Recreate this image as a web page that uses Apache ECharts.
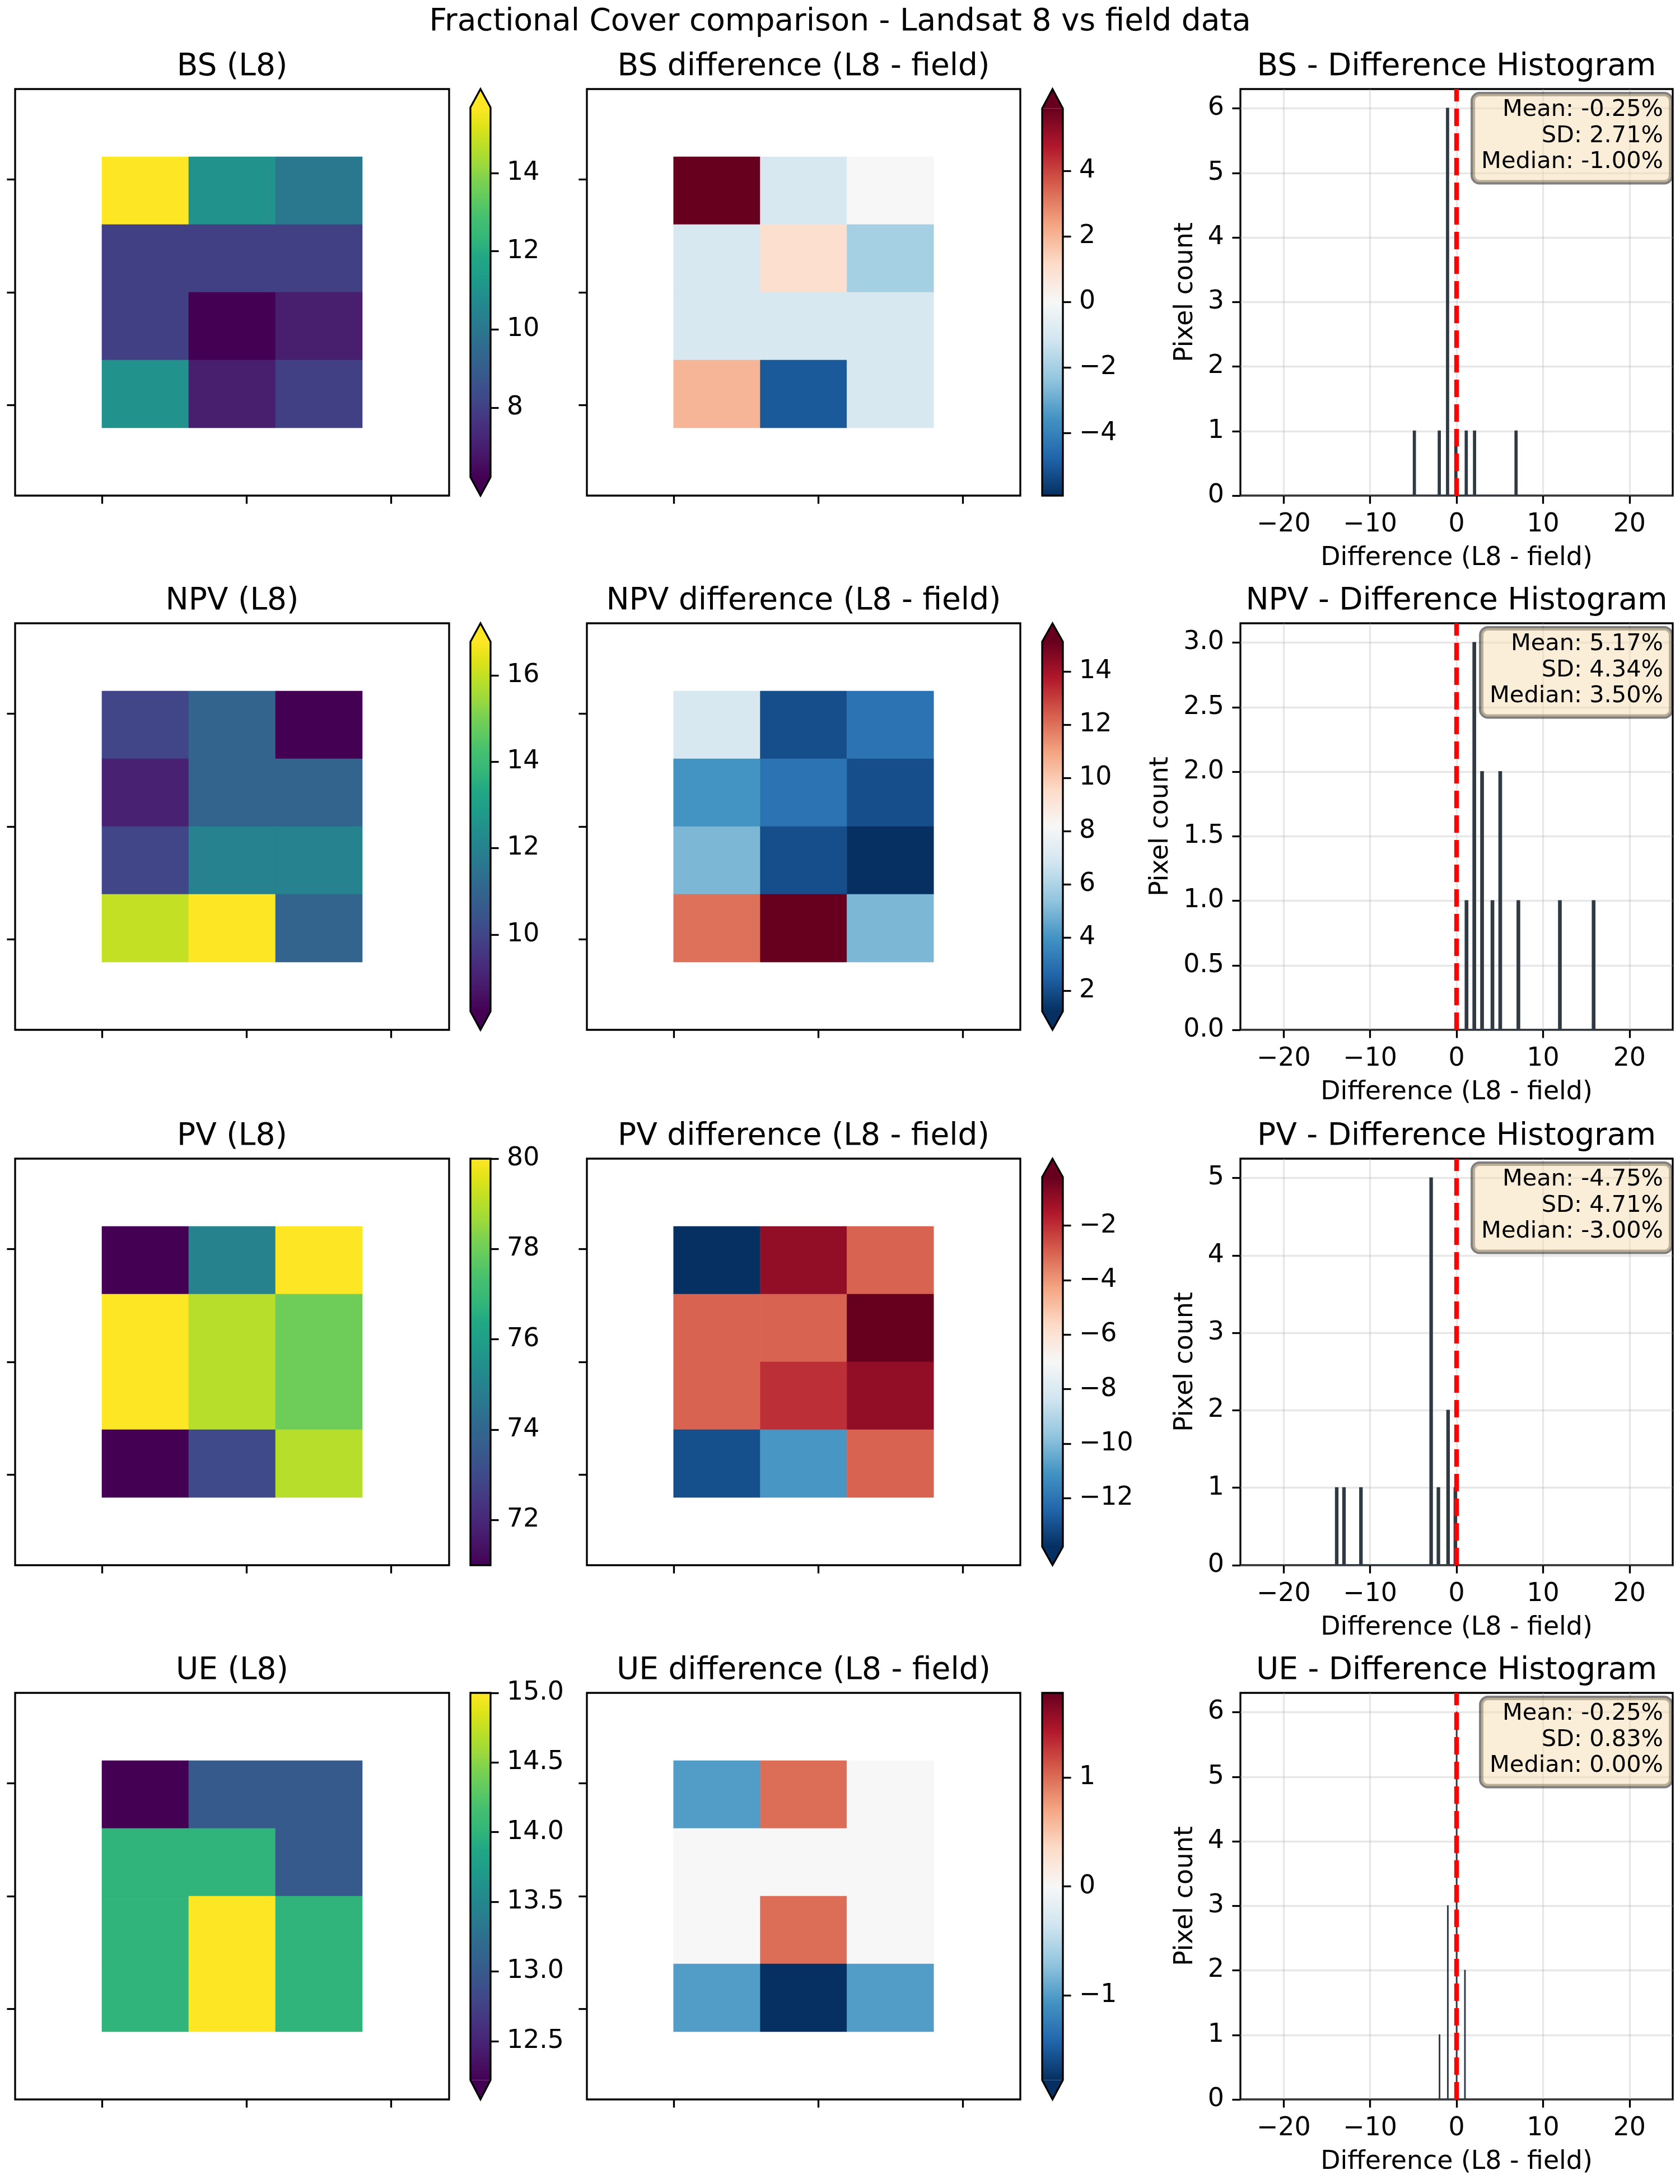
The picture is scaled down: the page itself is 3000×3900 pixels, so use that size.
<!DOCTYPE html>
<html>
<head>
<meta charset="utf-8">
<script src="https://cdn.jsdelivr.net/npm/echarts@6/dist/echarts.min.js"></script>
<style>
  html, body { margin: 0; padding: 0; background: #fff; }
  #chart { width: 3000px; height: 3900px; }
</style>
</head>
<body>
<div id="chart"></div>
<script>
// Landsat 8 cover values, 4 rows x 3 columns (top row first)
const BS_L8 = [[17, 11, 10], [8, 8, 8], [8, 6, 7], [11, 7, 8]];
const NPV_L8 = [[10, 11, 8], [9, 11, 11], [10, 12, 12], [16, 17, 11]];
const PV_L8 = [[71, 75, 80], [80, 79, 78], [80, 79, 78], [71, 73, 79]];
const UE_L8 = [[12, 13, 13], [14, 14, 13], [14, 15, 14], [14, 15, 14]];

// L8 - field differences, same layout
const BS_DIFF = [[7, -1, 0], [-1, 1, -2], [-1, -1, -1], [2, -5, -1]];
const NPV_DIFF = [[7, 2, 3], [4, 3, 2], [5, 2, 1], [12, 16, 5]];
const PV_DIFF = [[-14, -1, -3], [-3, -3, 0], [-3, -2, -1], [-13, -11, -3]];
const UE_DIFF = [[-1, 1, 0], [0, 0, 0], [0, 1, 0], [-1, -2, -1]];

const VAR_NAMES = ['BS', 'NPV', 'PV', 'UE'];

// colorbar ticks
const BS_L8_TICKS = [8, 10, 12, 14];
const NPV_L8_TICKS = [10, 12, 14, 16];
const PV_L8_TICKS = [72, 74, 76, 78, 80];
const UE_L8_TICKS = [12.5, 13.0, 13.5, 14.0, 14.5, 15.0];
const BS_DIFF_TICKS = [-4, -2, 0, 2, 4];
const NPV_DIFF_TICKS = [2, 4, 6, 8, 10, 12, 14];
const PV_DIFF_TICKS = [-12, -10, -8, -6, -4, -2];
const UE_DIFF_TICKS = [-1, 0, 1];

// histogram ticks
const HIST_X_TICKS = [-20, -10, 0, 10, 20];
const BS_HIST_Y_TICKS = [0, 1, 2, 3, 4, 5, 6];
const NPV_HIST_Y_TICKS = [0, 0.5, 1.0, 1.5, 2.0, 2.5, 3.0];
const PV_HIST_Y_TICKS = [0, 1, 2, 3, 4, 5];
const UE_HIST_Y_TICKS = [0, 1, 2, 3, 4, 5, 6];

// map frame ticks (no labels)
const MAP_X_TICKS = [30, 80, 130];
const MAP_Y_TICKS = [40, 90, 140];

const BS_STATS = ['Mean: -0.25%', 'SD: 2.71%', 'Median: -1.00%'];
const NPV_STATS = ['Mean: 5.17%', 'SD: 4.34%', 'Median: 3.50%'];
const PV_STATS = ['Mean: -4.75%', 'SD: 4.71%', 'Median: -3.00%'];
const UE_STATS = ['Mean: -0.25%', 'SD: 0.83%', 'Median: 0.00%'];

const SUPTITLE = 'Fractional Cover comparison - Landsat 8 vs field data';
const X_LABEL = 'Difference (L8 - field)';
const Y_LABEL = 'Pixel count';

const VIRIDIS = ['#440154', '#471365', '#482475', '#46337f', '#414487', '#3b528b', '#355f8d',
  '#306a8e', '#2a788e', '#25848e', '#21918c', '#1f9e89', '#22a884', '#35b779', '#44bf70',
  '#5ec962', '#7ad151', '#9fda3a', '#bddf26', '#dfe318', '#fde725'];
const RDBU_R = ['#053061', '#2166ac', '#4393c3', '#92c5de', '#d1e5f0', '#f7f7f7',
  '#fddbc7', '#f4a582', '#d6604d', '#b2182b', '#67001f'];

const VARS = [
  { l8: BS_L8, diff: BS_DIFF, l8Ticks: BS_L8_TICKS, diffTicks: BS_DIFF_TICKS, yTicks: BS_HIST_Y_TICKS, stats: BS_STATS },
  { l8: NPV_L8, diff: NPV_DIFF, l8Ticks: NPV_L8_TICKS, diffTicks: NPV_DIFF_TICKS, yTicks: NPV_HIST_Y_TICKS, stats: NPV_STATS, yDigits: 1 },
  { l8: PV_L8, diff: PV_DIFF, l8Ticks: PV_L8_TICKS, diffTicks: PV_DIFF_TICKS, yTicks: PV_HIST_Y_TICKS, stats: PV_STATS },
  { l8: UE_L8, diff: UE_DIFF, l8Ticks: UE_L8_TICKS, diffTicks: UE_DIFF_TICKS, yTicks: UE_HIST_Y_TICKS, stats: UE_STATS, cbDigits: 1 }
];

// layout (px)
const ROW_TOP = [159, 1113, 2069, 3023];
const ROW_H = 726;
const MAP1 = [27, 775], CB1 = [840, 36], MAP2 = [1048, 774], CB2 = [1861, 37], HIST = [2215, 772];
const CELL = 30;
const SPINE = 3.3, TICK_LEN = 14.6, LABEL_PAD = 29;
const FONT = 'DejaVu Sans';
const TICK_FS = 45.8, TITLE_FS = 55, STAT_FS = 41.5;
const HIST_BINS = 50;
const BAR_COLOR = '#303a44';

const measureCtx = document.createElement('canvas').getContext('2d');
measureCtx.font = TICK_FS + 'px "' + FONT + '"';

function fmt(v, digits) {
  const s = Math.abs(v).toFixed(digits || 0);
  return (v < 0 && Number(s) !== 0 ? '\u2212' : '') + s;
}

function percentile(vals, p) {
  const s = vals.slice().sort((a, b) => a - b);
  const idx = (s.length - 1) * p / 100;
  const lo = Math.floor(idx), hi = Math.ceil(idx);
  return s[lo] + (s[hi] - s[lo]) * (idx - lo);
}

function histogram(vals, nBins) {
  const lo = Math.min(...vals), hi = Math.max(...vals);
  const counts = new Array(nBins).fill(0);
  vals.forEach(v => {
    let k = Math.floor((v - lo) * nBins / (hi - lo) + 1e-9);
    if (k >= nBins) k = nBins - 1;
    counts[k]++;
  });
  const w = (hi - lo) / nBins;
  return counts.map((n, k) => [lo + k * w, lo + (k + 1) * w, n]);
}

function cellItem(params, api) {
  const c = api.value(0), r = api.value(1);
  const p0 = api.coord([(c + 1) * CELL, (r + 1) * CELL]);
  const p1 = api.coord([(c + 2) * CELL, (r + 2) * CELL]);
  const col = api.visual('color');
  return {
    type: 'rect',
    shape: { x: Math.min(p0[0], p1[0]), y: Math.min(p0[1], p1[1]),
             width: Math.abs(p1[0] - p0[0]), height: Math.abs(p1[1] - p0[1]) },
    style: { fill: col, stroke: col, lineWidth: 0.6 }
  };
}

function colorbarItem(cmap, ext) {
  return function (params, api) {
    const cs = params.coordSys;
    const yTop = api.coord([0, api.value(1)])[1];
    const yBot = api.coord([0, api.value(0)])[1];
    const x0 = cs.x, x1 = cs.x + cs.width, xm = (x0 + x1) / 2;
    const a = (yBot - yTop) * 0.05;
    const n = cmap.length;
    const stops = cmap.map((c, k) => ({ offset: 1 - k / (n - 1), color: c })).reverse();
    const children = [{
      type: 'rect', shape: { x: x0, y: yTop, width: x1 - x0, height: yBot - yTop },
      style: { fill: new echarts.graphic.LinearGradient(0, 0, 0, 1, stops) }
    }];
    const outline = [[x0, yBot]];
    if (ext.min) {
      children.push({ type: 'polygon', shape: { points: [[x0, yBot], [xm, yBot + a], [x1, yBot]] }, style: { fill: cmap[0] } });
      outline.push([xm, yBot + a]);
    }
    outline.push([x1, yBot], [x1, yTop]);
    if (ext.max) {
      children.push({ type: 'polygon', shape: { points: [[x0, yTop], [xm, yTop - a], [x1, yTop]] }, style: { fill: cmap[n - 1] } });
      outline.push([xm, yTop - a]);
    }
    outline.push([x0, yTop]);
    children.push({ type: 'polygon', shape: { points: outline },
      style: { fill: 'none', stroke: '#000', lineWidth: SPINE, lineJoin: 'miter' } });
    return { type: 'group', children: children };
  };
}

function barItem(params, api) {
  const p0 = api.coord([api.value(0), 0]);
  const p1 = api.coord([api.value(1), api.value(2)]);
  return {
    type: 'rect',
    shape: { x: p0[0], y: p1[1], width: p1[0] - p0[0], height: p0[1] - p1[1] },
    style: { fill: BAR_COLOR, stroke: BAR_COLOR, lineWidth: 2, opacity: 1 }
  };
}

const option = {
  animation: false,
  backgroundColor: '#fff',
  textStyle: { fontFamily: FONT },
  title: [], grid: [], xAxis: [], yAxis: [], series: [], visualMap: [], graphic: []
};

const tickStyle = { color: '#000', width: SPINE };
const labelStyle = { color: '#000', fontSize: TICK_FS, fontFamily: FONT };
const noLine = { show: false, onZero: false };

function addGrid(left, top, width, height, framed) {
  option.grid.push({
    left: left, top: top, width: width, height: height,
    show: framed, borderColor: '#000', borderWidth: SPINE, backgroundColor: 'transparent',
    containLabel: false, outerBoundsMode: 'none'
  });
  return option.grid.length - 1;
}

function addTitle(text, cx, top) {
  option.title.push({
    text: text, left: cx, top: top, textAlign: 'center', padding: 0,
    textStyle: { fontSize: TITLE_FS, fontWeight: 'normal', color: '#000', fontFamily: FONT, lineHeight: 66 }
  });
}

function addMap(rowTop, box, grid2d, cmap, lo, hi) {
  const g = addGrid(box[0], rowTop, box[1], ROW_H, true);
  option.xAxis.push({
    gridIndex: g, type: 'value', min: 0, max: 5 * CELL, position: 'bottom',
    axisLine: noLine,
    axisTick: { show: true, inside: false, length: TICK_LEN, customValues: MAP_X_TICKS, lineStyle: tickStyle },
    axisLabel: { show: false }, splitLine: { show: false }
  });
  option.yAxis.push({
    gridIndex: g, type: 'value', min: 0, max: 6 * CELL, inverse: true, position: 'left',
    axisLine: noLine,
    axisTick: { show: true, inside: false, length: TICK_LEN, customValues: MAP_Y_TICKS, lineStyle: tickStyle },
    axisLabel: { show: false }, splitLine: { show: false }
  });
  const cells = [];
  grid2d.forEach((row, r) => row.forEach((v, c) => cells.push([c, r, v])));
  option.series.push({
    type: 'custom', xAxisIndex: g, yAxisIndex: g, encode: { x: 0, y: 1 },
    data: cells, renderItem: cellItem, silent: true
  });
  option.visualMap.push({
    type: 'continuous', show: false, seriesIndex: option.series.length - 1,
    dimension: 2, min: lo, max: hi, inRange: { color: cmap }
  });
}

function addColorbar(rowTop, box, cmap, lo, hi, ext, ticks, digits) {
  const h = ROW_H / (1 + 0.05 * ((ext.min ? 1 : 0) + (ext.max ? 1 : 0)));
  const top = rowTop + (ext.max ? 0.05 * h : 0);
  const g = addGrid(box[0], top, box[1], h, false);
  option.xAxis.push({ gridIndex: g, type: 'value', min: 0, max: 1, show: false, axisLine: noLine });
  option.yAxis.push({
    gridIndex: g, type: 'value', min: lo, max: hi, position: 'right',
    axisLine: noLine,
    axisTick: { show: true, inside: false, length: TICK_LEN, customValues: ticks, lineStyle: tickStyle },
    axisLabel: { show: true, customValues: ticks, margin: LABEL_PAD, formatter: v => fmt(v, digits), ...labelStyle },
    splitLine: { show: false }
  });
  option.series.push({
    type: 'custom', xAxisIndex: g, yAxisIndex: g, encode: { x: -1, y: [0, 1] },
    data: [[lo, hi]], renderItem: colorbarItem(cmap, ext), silent: true, clip: false
  });
}

function addHist(rowTop, diffVals, yTicks, yDigits, stats) {
  const bins = histogram(diffVals, HIST_BINS);
  const yMax = Math.max(...bins.map(b => b[2])) * 1.05;
  const g = addGrid(HIST[0], rowTop, HIST[1], ROW_H, true);
  const labelW = Math.max(...yTicks.map(t => measureCtx.measureText(fmt(t, yDigits)).width));
  const nameStyle = { fontSize: TICK_FS, color: '#000', fontFamily: FONT };
  const gridLine = { show: true, lineStyle: { color: '#b0b0b0', opacity: 0.3, width: SPINE } };
  option.xAxis.push({
    gridIndex: g, type: 'value', min: -25, max: 25, position: 'bottom',
    axisLine: noLine,
    axisTick: { show: true, inside: false, length: TICK_LEN, customValues: HIST_X_TICKS, lineStyle: tickStyle },
    axisLabel: { show: true, customValues: HIST_X_TICKS, margin: LABEL_PAD, formatter: v => fmt(v, 0), ...labelStyle },
    splitLine: gridLine,
    name: X_LABEL, nameLocation: 'middle', nameGap: 89, nameTextStyle: nameStyle, nameMoveOverlap: false
  });
  option.yAxis.push({
    gridIndex: g, type: 'value', min: 0, max: yMax, position: 'left',
    axisLine: noLine,
    axisTick: { show: true, inside: false, length: TICK_LEN, customValues: yTicks, lineStyle: tickStyle },
    axisLabel: { show: true, customValues: yTicks, margin: LABEL_PAD, formatter: v => fmt(v, yDigits), ...labelStyle },
    splitLine: gridLine,
    name: Y_LABEL, nameLocation: 'middle', nameRotate: 90, nameGap: LABEL_PAD + labelW + 17,
    nameTextStyle: nameStyle, nameMoveOverlap: false
  });
  option.series.push({
    type: 'custom', xAxisIndex: g, yAxisIndex: g, encode: { x: [0, 1], y: 2 },
    data: bins, renderItem: barItem, silent: true, z: 2
  });
  option.series.push({
    type: 'line', xAxisIndex: g, yAxisIndex: g, data: [[0, 0], [0, yMax]],
    symbol: 'none', silent: true, z: 5,
    lineStyle: { color: '#ff0000', width: 8.3, type: [31, 13], cap: 'butt' }
  });
  option.graphic.push({
    type: 'text', x: HIST[0] + HIST[1] - 3, y: rowTop + 9, z: 100, silent: true,
    style: {
      text: stats.join('\n'), align: 'right', verticalAlign: 'top',
      fill: '#000', font: STAT_FS + 'px "' + FONT + '"', lineHeight: 46.5,
      backgroundColor: 'rgba(245,222,179,0.5)', borderColor: 'rgba(0,0,0,0.5)',
      borderWidth: 4, borderRadius: 12, padding: [5, 14, 13, 15]
    }
  });
}

addTitle(SUPTITLE, 1500, 7);

VARS.forEach((v, i) => {
  const rowTop = ROW_TOP[i];
  const name = VAR_NAMES[i];
  const l8Vals = v.l8.flat();
  const diffVals = v.diff.flat();

  // L8 colour limits: 2nd / 98th percentiles
  const l8Lo = percentile(l8Vals, 2), l8Hi = percentile(l8Vals, 98);
  const l8Ext = { min: Math.min(...l8Vals) < l8Lo, max: Math.max(...l8Vals) > l8Hi };

  // difference limits: percentiles, symmetric around 0 when they straddle it
  let dLo = percentile(diffVals, 2), dHi = percentile(diffVals, 98);
  if (dLo < 0 && dHi > 0) { const m = Math.max(-dLo, dHi); dLo = -m; dHi = m; }
  const dExt = { min: Math.min(...diffVals) < dLo, max: Math.max(...diffVals) > dHi };

  addMap(rowTop, MAP1, v.l8, VIRIDIS, l8Lo, l8Hi);
  addColorbar(rowTop, CB1, VIRIDIS, l8Lo, l8Hi, l8Ext, v.l8Ticks, v.cbDigits || 0);
  addMap(rowTop, MAP2, v.diff, RDBU_R, dLo, dHi);
  addColorbar(rowTop, CB2, RDBU_R, dLo, dHi, dExt, v.diffTicks, 0);
  addHist(rowTop, diffVals, v.yTicks, v.yDigits || 0, v.stats);

  addTitle(name + ' (L8)', MAP1[0] + MAP1[1] / 2, rowTop - 72);
  addTitle(name + ' difference (L8 - field)', MAP2[0] + MAP2[1] / 2, rowTop - 72);
  addTitle(name + ' - Difference Histogram', HIST[0] + HIST[1] / 2, rowTop - 72);
});

const chart = echarts.init(document.getElementById('chart'), null, { renderer: 'canvas' });
chart.setOption(option);
</script>
</body>
</html>
